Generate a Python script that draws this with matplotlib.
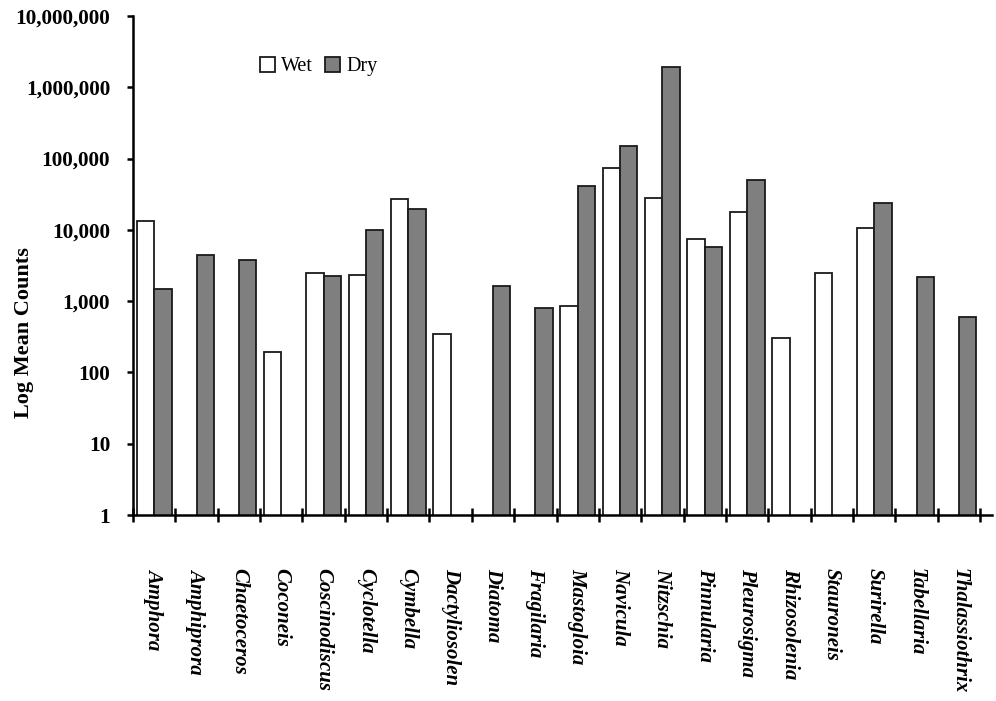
import numpy as np
import matplotlib
matplotlib.use("Agg")
from matplotlib import pyplot as plt
from matplotlib.ticker import FixedLocator, NullLocator

genera = ['Amphora', 'Amphiprora', 'Chaetoceros', 'Coconeis', 'Coscinodiscus',
          'Cyclotella', 'Cymbella', 'Dactyliosolen', 'Diatoma', 'Fragilaria',
          'Mastogloia', 'Navicula', 'Nitzschia', 'Pinnularia', 'Pleurosigma',
          'Rhizosolenia', 'Stauroneis', 'Surirella', 'Tabellaria', 'Thalassiothrix']

# mean counts per season (nan = not recorded)
wet = [13300, np.nan, np.nan, 193, 2450, 2300, 27300, 342, np.nan, np.nan,
       854, 73600, 28200, 7360, 17900, 301, 2480, 10700, np.nan, np.nan]
dry = [1490, 4390, 3730, np.nan, 2270, 9840, 19400, np.nan, 1645, 792,
       41600, 149700, 1940000, 5680, 49900, np.nan, np.nan, 23800, 2200, 604]

y_ticks = [1, 10, 100, 1000, 10000, 100000, 1000000, 10000000]
y_labels = ['1', '10', '100', '1,000', '10,000', '100,000', '1,000,000', '10,000,000']

serif = ['Liberation Serif', 'DejaVu Serif']

fig = plt.figure(figsize=(9.96, 7.01), dpi=100)
ax = fig.add_axes([0.1335, 0.2653, 0.8621, 0.7119])

x = np.arange(len(genera))
w = 0.41
ax.bar(x - w / 2, wet, w, color='white', edgecolor='#1a1a1a', linewidth=1.3, label='Wet')
ax.bar(x + w / 2, dry, w, color='#7f7f7f', edgecolor='#1a1a1a', linewidth=1.3, label='Dry')

ax.set_yscale('log')
ax.set_ylim(1, 1e7)
ax.set_xlim(-0.5, 19.77)

ax.yaxis.set_major_locator(FixedLocator(y_ticks))
ax.yaxis.set_minor_locator(NullLocator())
ax.set_yticklabels(y_labels, fontfamily=serif, fontweight='bold', fontsize=15.3)
ax.tick_params(axis='y', direction='out', length=4.5, width=1.8, pad=12)

# tick marks sit between categories, labels at the centres
ax.set_xticks(np.arange(-0.5, len(genera), 1.0))
ax.set_xticklabels([])
ax.tick_params(axis='x', which='major', direction='inout', length=10, width=1.8)
ax.set_xticks(x, minor=True)
ax.set_xticklabels(genera, minor=True, rotation=-90, fontfamily=serif,
                   fontweight='bold', fontstyle='italic', fontsize=15,
                   va='top', ha='center')
ax.tick_params(axis='x', which='minor', length=0, pad=38)

for side in ['top', 'right']:
    ax.spines[side].set_visible(False)
for side in ['left', 'bottom']:
    ax.spines[side].set_linewidth(1.8)

fig.text(0.024, 0.525, 'Log Mean Counts', rotation=90, ha='center', va='center',
         fontfamily=serif, fontweight='bold', fontsize=16)

ax.legend(loc='center left', bbox_to_anchor=(0.243, 0.905), bbox_transform=fig.transFigure,
          ncol=2, frameon=False, handlelength=0.75, handleheight=0.75,
          handletextpad=0.3, columnspacing=0.6,
          prop={'family': serif, 'size': 14.5})

fig.savefig('out.png', dpi=100)
